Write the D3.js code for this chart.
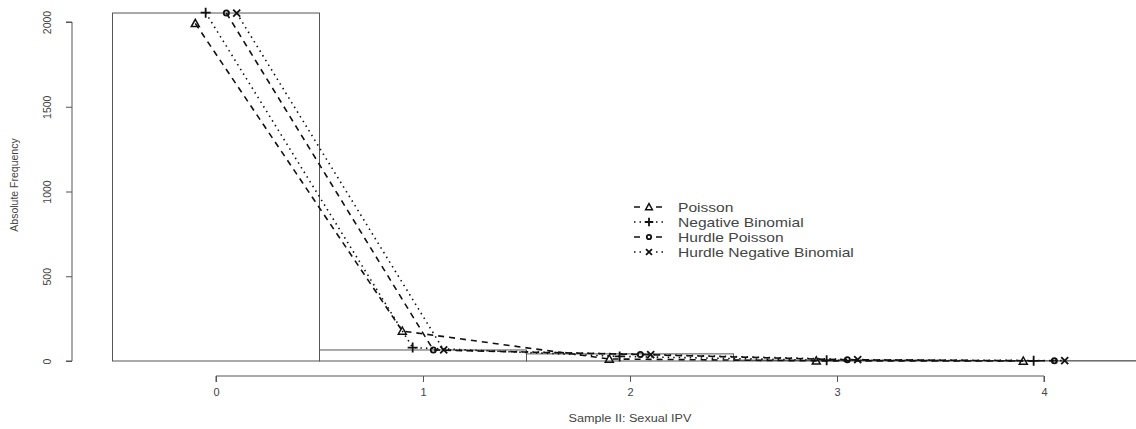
<!DOCTYPE html>
<html>
<head>
<meta charset="utf-8">
<script src="https://cdnjs.cloudflare.com/ajax/libs/d3/7.8.5/d3.min.js"></script>
<style>
  body { margin: 0; background: #fff; }
  text { font-family: "Liberation Sans", Arial, sans-serif; fill: #444; }
</style>
</head>
<body>
<div id="chart"></div>
<script>
// observed counts and fitted frequencies
var counts = [0, 1, 2, 3, 4];
var observed = [2053, 65, 42, 5, 2];
var poisson = [1992, 177, 12, 1, 0];
var negBinomial = [2055, 79, 27, 4, 1];
var hurdlePoisson = [2053, 65, 38, 7, 1];
var hurdleNegBinomial = [2053, 65, 38, 8, 2];
var yTicks = [0, 500, 1000, 1500, 2000];
var seriesNames = ["Poisson", "Negative Binomial", "Hurdle Poisson", "Hurdle Negative Binomial"];

var width = 1136, height = 429;

var svg = d3.select("#chart")
  .append("svg")
    .attr("width", width)
    .attr("height", height);

var x = d3.scaleLinear().domain([0, 4]).range([216, 1044]);
var y = d3.scaleLinear().domain([0, 2000]).range([361, 22]);

var series = [
  {name: seriesNames[0], values: poisson, shift: -0.1, dash: "6,5", pch: "triangle"},
  {name: seriesNames[1], values: negBinomial, shift: -0.05, dash: "1.5,4", pch: "plus"},
  {name: seriesNames[2], values: hurdlePoisson, shift: 0.05, dash: "6,5", pch: "circle"},
  {name: seriesNames[3], values: hurdleNegBinomial, shift: 0.1, dash: "1.5,4", pch: "cross"}
];

// histogram bars
svg.append("g").selectAll("rect")
  .data(counts)
  .enter().append("rect")
    .attr("x", function(d) { return x(d - 0.5); })
    .attr("width", function(d) { return x(d + 0.5) - x(d - 0.5); })
    .attr("y", function(d, i) { return y(observed[i]); })
    .attr("height", function(d, i) { return y(0) - y(observed[i]); })
    .attr("fill", "none")
    .attr("stroke", "#555")
    .attr("stroke-width", 1);

// X axis
var xAxis = svg.append("g")
  .attr("transform", "translate(0,376)")
  .call(d3.axisBottom(x).tickValues(counts).tickSize(6).tickPadding(6).tickFormat(d3.format("d")));
xAxis.select(".domain").attr("stroke", "#555").attr("d", "M" + x(0) + ",6V0H" + x(4) + "V6");
xAxis.selectAll("line").attr("stroke", "#555");
xAxis.selectAll("text").style("font-size", "11px").attr("fill", "#444")
  .style("font-family", "Liberation Sans, Arial, sans-serif");

// Y axis
var yAxis = svg.append("g")
  .attr("transform", "translate(72,0)")
  .call(d3.axisLeft(y).tickValues(yTicks).tickSize(6).tickFormat(d3.format("d")));
yAxis.select(".domain").attr("stroke", "#555").attr("d", "M-6," + y(0) + "H0V" + y(2000) + "H-6");
yAxis.selectAll("line").attr("stroke", "#555");
yAxis.selectAll("text")
  .attr("x", null).attr("dy", null)
  .attr("transform", "translate(-21,0) rotate(-90)")
  .attr("text-anchor", "middle")
  .attr("fill", "#444")
  .style("font-size", "10.5px")
  .style("font-family", "Liberation Sans, Arial, sans-serif");

// axis titles
svg.append("text")
  .attr("transform", "translate(630,422) scale(1.1,1)")
  .attr("text-anchor", "middle")
  .style("font-size", "11.5px")
  .text("Sample II: Sexual IPV");

svg.append("text")
  .attr("transform", "translate(18,185) rotate(-90)")
  .attr("text-anchor", "middle")
  .style("font-size", "10.5px")
  .text("Absolute Frequency");

// marker drawing
function drawMarker(g, type, cx, cy, k) {
  k = k || 1;
  if (type === "triangle") {
    var r = 4 * k;
    g.append("path")
      .attr("d", "M" + cx + "," + (cy - r) + "L" + (cx + r) + "," + (cy + r * 0.8) + "L" + (cx - r) + "," + (cy + r * 0.8) + "Z")
      .attr("fill", "none").attr("stroke", "#111").attr("stroke-width", 1.5);
  } else if (type === "plus") {
    var p = 5 * k;
    g.append("path")
      .attr("d", "M" + (cx - p) + "," + cy + "H" + (cx + p) + "M" + cx + "," + (cy - p) + "V" + (cy + p))
      .attr("stroke", "#111").attr("stroke-width", 1.8);
  } else if (type === "circle") {
    g.append("circle")
      .attr("cx", cx).attr("cy", cy).attr("r", 2.6 * k)
      .attr("fill", "none").attr("stroke", "#111").attr("stroke-width", 1.8);
  } else {
    var c = 3.5 * k;
    g.append("path")
      .attr("d", "M" + (cx - c) + "," + (cy - c) + "L" + (cx + c) + "," + (cy + c) + "M" + (cx + c) + "," + (cy - c) + "L" + (cx - c) + "," + (cy + c))
      .attr("stroke", "#111").attr("stroke-width", 1.8);
  }
}

// fitted lines
var line = d3.line()
  .x(function(d) { return x(d[0]); })
  .y(function(d) { return y(d[1]); });

series.forEach(function(s) {
  var pts = counts.map(function(c, i) { return [c + s.shift, s.values[i]]; });
  var g = svg.append("g");
  g.append("path")
    .datum(pts)
    .attr("fill", "none")
    .attr("stroke", "#111")
    .attr("stroke-width", 1.6)
    .attr("stroke-dasharray", s.dash)
    .attr("d", line);
  pts.forEach(function(p) { drawMarker(g, s.pch, x(p[0]), y(p[1])); });
});

// legend
var legend = svg.append("g").attr("transform", "translate(634,207)");
series.forEach(function(s, i) {
  var row = legend.append("g").attr("transform", "translate(0," + (i * 15) + ")");
  row.append("line")
    .attr("x1", 0).attr("x2", 30).attr("y1", 0).attr("y2", 0)
    .attr("stroke", "#111").attr("stroke-width", 1.3)
    .attr("stroke-dasharray", s.dash);
  row.append("rect")
    .attr("x", 9).attr("y", -5).attr("width", 12).attr("height", 10)
    .attr("fill", "#fff");
  drawMarker(row, s.pch, 15, 0, 0.85);
  row.append("text")
    .attr("transform", "translate(44,0) scale(1.2,1)")
    .attr("dy", "0.35em")
    .style("font-size", "13px")
    .text(s.name);
});
</script>
</body>
</html>
